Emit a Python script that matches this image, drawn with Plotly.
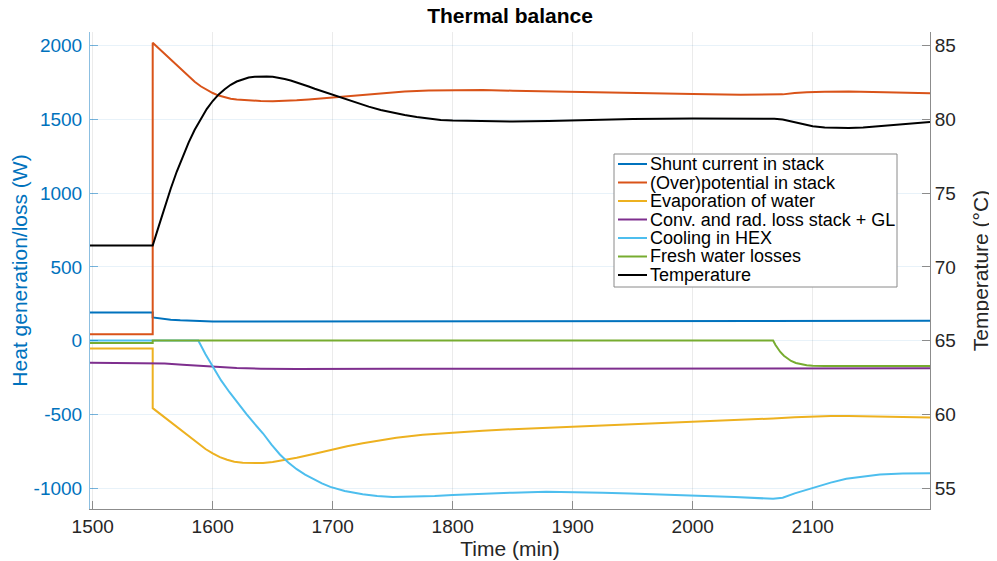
import plotly.graph_objects as go

# ---------------- data ----------------
series_names = [
    "Shunt current in stack",
    "(Over)potential in stack",
    "Evaporation of water",
    "Conv. and rad. loss stack + GL",
    "Cooling in HEX",
    "Fresh water losses",
    "Temperature",
]
series_colors = ["#0072BD", "#D95319", "#EDB120", "#7E2F8E", "#4DBEEE", "#77AC30", "#000000"]

t_shunt = [1497.75, 1550, 1550, 1555, 1560, 1565, 1573, 1580, 1590, 1600, 1620, 1700, 1900, 2197.75]
shunt = [190, 190, 157, 151, 146, 142, 138, 135, 132, 130, 129, 129, 131, 134]

t_over = [1497.75, 1550, 1550, 1555, 1560, 1565, 1570, 1575, 1580, 1585, 1590, 1595, 1600, 1605,
          1610, 1615, 1620, 1630, 1640, 1650, 1660, 1670, 1680, 1690, 1700, 1720, 1740, 1760,
          1780, 1800, 1825, 1850, 1900, 1950, 2000, 2040, 2065, 2075, 2085, 2095, 2110, 2130,
          2160, 2197.75]
over = [43, 43, 2020, 1982, 1945, 1905, 1866, 1826, 1790, 1756, 1725, 1700, 1679, 1662,
        1650, 1641, 1635, 1628, 1625, 1624, 1626, 1630, 1636, 1643, 1651, 1667, 1680, 1690,
        1697, 1700, 1699, 1695, 1686, 1678, 1672, 1668, 1666, 1670, 1679, 1685, 1688, 1689,
        1685, 1678]

t_evap = [1497.75, 1550, 1550, 1560, 1570, 1580, 1588, 1594, 1600, 1606, 1612, 1618, 1625,
          1634, 1642, 1650, 1660, 1670, 1685, 1698, 1712, 1725, 1740, 1753, 1775, 1800, 1825,
          1850, 1900, 1950, 2000, 2040, 2067, 2085, 2100, 2115, 2130, 2160, 2197.75]
evap = [-53, -53, -458, -522, -587, -651, -702, -735, -765, -790, -808, -821, -829,
        -832, -830, -823, -810, -794, -767, -742, -716, -696, -675, -659, -639, -623, -611,
        -601, -585, -569, -554, -538, -528, -519, -514, -511, -511, -514, -521]

t_conv = [1497.75, 1550, 1560, 1575, 1590, 1605, 1620, 1640, 1670, 1750, 1900, 2100, 2197.75]
conv = [-150, -150, -155, -163, -172, -180, -186, -190, -192, -191, -189, -188, -188]

t_hex = [1497.75, 1550, 1588, 1594, 1600, 1607, 1614, 1621, 1628, 1635, 1642, 1649, 1656,
         1663, 1670, 1677, 1684, 1691, 1698, 1710, 1725, 1737, 1750, 1767, 1785, 1800, 1825,
         1850, 1878, 1900, 1925, 1948, 2000, 2035, 2067, 2075, 2085, 2100, 2115, 2128, 2142,
         2156, 2175, 2197.75]
hex_cool = [0, 0, 0, -92, -177, -270, -350, -427, -497, -565, -630, -705, -772,
            -826, -872, -909, -940, -968, -992, -1020, -1042, -1054, -1060, -1059, -1053, -1047, -1038,
            -1031, -1025, -1026, -1031, -1037, -1050, -1060, -1073, -1066, -1036, -998, -963, -937, -920,
            -908, -902, -899]

t_fresh = [1497.75, 1550, 1550, 2067, 2069, 2071, 2073, 2076, 2079, 2082, 2086, 2090, 2095,
           2100, 2110, 2197.75]
fresh = [-16, -16, 0, 0, -30, -55, -77, -103, -122, -138, -152, -161, -167,
         -171, -173, -173]

t_temp = [1497.75, 1550, 1555, 1560, 1565, 1570, 1575, 1580, 1585, 1590, 1595, 1600, 1605,
          1610, 1615, 1620, 1625, 1630, 1635, 1640, 1645, 1650, 1655, 1660, 1665, 1670, 1675,
          1680, 1685, 1690, 1695, 1700, 1705, 1710, 1715, 1720, 1725, 1730, 1740, 1750, 1760,
          1770, 1780, 1790, 1800, 1820, 1850, 1880, 1900, 1950, 2000, 2050, 2068, 2075, 2080,
          2090, 2100, 2110, 2120, 2130, 2142, 2155, 2170, 2185, 2197.75]
temp = [71.45, 71.45, 72.75, 74.05, 75.3, 76.45, 77.5, 78.45, 79.3, 80.05, 80.7, 81.25, 81.7,
        82.05, 82.35, 82.57, 82.73, 82.84, 82.9, 82.93, 82.92, 82.89, 82.83, 82.74, 82.64, 82.52, 82.38,
        82.23, 82.08, 81.94, 81.8, 81.67, 81.53, 81.39, 81.25, 81.12, 80.99, 80.87, 80.64, 80.46, 80.3,
        80.16, 80.05, 79.97, 79.92, 79.88, 79.86, 79.89, 79.93, 80.03, 80.07, 80.06, 80.05, 80.0, 79.9,
        79.7, 79.54, 79.45, 79.42, 79.42, 79.46, 79.54, 79.64, 79.74, 79.82]

x_ticks = [1500, 1600, 1700, 1800, 1900, 2000, 2100]
x_ticktext = ["1500", "1600", "1700", "1800", "1900", "2000", "2100"]
yl_ticks = [-1000, -500, 0, 500, 1000, 1500, 2000]
yl_ticktext = ["-1000", "-500", "0", "500", "1000", "1500", "2000"]
yr_ticks = [55, 60, 65, 70, 75, 80, 85]
yr_ticktext = ["55", "60", "65", "70", "75", "80", "85"]

# ---------------- figure ----------------
FONT = "Liberation Sans, Arial, Helvetica, sans-serif"
OFF = 8  # page body margin of the generated html
W, H = 997 - OFF, 561 - OFF
ML, MT = 90 - OFF, 32 - OFF
PW, PH = 840, 477
MR, MB = W - ML - PW, H - MT - PH

left_series = [(t_shunt, shunt), (t_over, over), (t_evap, evap), (t_conv, conv),
               (t_hex, hex_cool), (t_fresh, fresh)]

fig = go.Figure()
for (tx, vy), nm, col in zip(left_series, series_names[:6], series_colors[:6]):
    fig.add_trace(go.Scatter(x=tx, y=vy, name=nm, mode="lines",
                             line=dict(color=col, width=2), showlegend=False))
fig.add_trace(go.Scatter(x=t_temp, y=temp, name=series_names[6], mode="lines", yaxis="y2",
                         line=dict(color=series_colors[6], width=2), showlegend=False))


def px2paper(px, py):
    # px, py are window pixel positions
    return (px - OFF - ML) / PW, 1 - (py - OFF - MT) / PH


# legend box (drawn with paper-referenced shapes/annotations)
bx0, by0 = px2paper(614, 154)
bx1, by1 = px2paper(897, 287)
shapes = [dict(type="rect", xref="paper", yref="paper", x0=bx0, x1=bx1, y0=by1, y1=by0,
               line=dict(color="#8a8a8a", width=1), fillcolor="white", layer="above")]
annotations = []
for i, (nm, col) in enumerate(zip(series_names, series_colors)):
    rowy = 164 + i * 18.5
    lx0, ly = px2paper(618, rowy)
    lx1, _ = px2paper(647, rowy)
    tx0, _ = px2paper(649, rowy)
    shapes.append(dict(type="line", xref="paper", yref="paper", x0=lx0, x1=lx1, y0=ly, y1=ly,
                       line=dict(color=col, width=2), layer="above"))
    annotations.append(dict(text=nm, xref="paper", yref="paper", x=tx0, y=ly, xanchor="left",
                            yanchor="middle", showarrow=False, borderpad=0,
                            font=dict(family=FONT, size=18, color="#000000")))

fig.update_layout(
    width=W, height=H,
    margin=dict(l=ML, r=MR, t=MT, b=MB, autoexpand=False),
    paper_bgcolor="white", plot_bgcolor="white",
    font=dict(family=FONT, color="#262626"),
    showlegend=False,
    title=dict(text="<b>Thermal balance</b>", x=(ML + PW / 2) / W, xanchor="center",
               xref="container", y=1.0, yanchor="top", yref="container",
               pad=dict(t=0, b=0, l=0, r=0),
               font=dict(family=FONT, size=21, color="#000000")),
    xaxis=dict(range=[1497.75, 2197.75], tickvals=x_ticks, ticktext=x_ticktext,
               ticks="inside", ticklen=8, tickcolor="#8c8c8c", showline=True,
               linecolor="#8c8c8c", linewidth=1, mirror=False, zeroline=False,
               showgrid=True, gridcolor="rgba(38,38,38,0.09)", gridwidth=1,
               tickfont=dict(family=FONT, size=19, color="#262626"),
               title=dict(text="Time (min)", font=dict(family=FONT, size=21, color="#262626"),
                          standoff=2),
               automargin=False),
    yaxis=dict(range=[-1142, 2093], tickvals=yl_ticks, ticktext=yl_ticktext,
               ticks="inside", ticklen=8, tickcolor="rgba(0,114,189,0.5)", showline=True,
               linecolor="rgba(0,114,189,0.45)", linewidth=1, zeroline=False,
               showgrid=True, gridcolor="rgba(0,114,189,0.09)", gridwidth=1,
               ticklabelstandoff=3,
               tickfont=dict(family=FONT, size=19, color="#0072BD"),
               title=dict(text="Heat generation/loss (W)",
                          font=dict(family=FONT, size=21, color="#0072BD"), standoff=3),
               automargin=False),
    yaxis2=dict(range=[53.58, 85.93], tickvals=yr_ticks, ticktext=yr_ticktext,
                overlaying="y", side="right", ticks="inside", ticklen=8,
                tickcolor="#8c8c8c", showline=True, linecolor="#8c8c8c", linewidth=1,
                zeroline=False, showgrid=False,
                tickfont=dict(family=FONT, size=19, color="#262626"),
                title=dict(text="Temperature (°C)",
                           font=dict(family=FONT, size=21, color="#262626"), standoff=18),
                automargin=False),
    shapes=shapes,
    annotations=annotations,
)

fig.write_html("out.html")
